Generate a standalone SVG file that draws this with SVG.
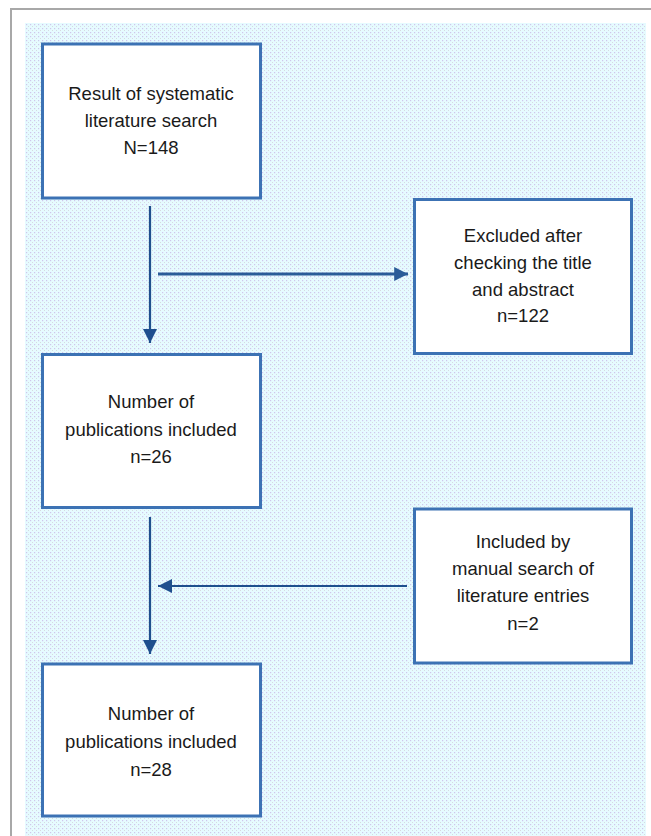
<svg xmlns="http://www.w3.org/2000/svg" width="651" height="836" viewBox="0 0 651 836">
  <defs>
    <pattern id="dots" x="25" y="23" width="4" height="4" patternUnits="userSpaceOnUse">
      <rect width="4" height="4" fill="#e6fbff"/>
      <rect x="1" y="1" width="1.2" height="1.2" fill="#cfc6ec"/>
      <rect x="3" y="3" width="1" height="1" fill="#d6dbe0"/>
    </pattern>
    <marker id="ah" viewBox="0 0 10 10" refX="10" refY="5" markerWidth="6.5" markerHeight="6.5" markerUnits="strokeWidth" orient="auto">
      <path d="M0,0 L10,5 L0,10 Z" fill="#1e4f8e"/>
    </marker>
    <marker id="ah2" viewBox="0 0 10 10" refX="10" refY="5" markerWidth="4.6" markerHeight="4.6" markerUnits="strokeWidth" orient="auto">
      <path d="M0,0 L10,5 L0,10 Z" fill="#2a5c98"/>
    </marker>
  </defs>
  <style>
    .box { fill: #ffffff; stroke: #3c72b4; stroke-width: 3; }
    .lbl { font-family: "Liberation Sans", Arial, sans-serif; font-size: 18.5px; fill: #1a1a1a; text-anchor: middle; }
    .conn { stroke: #1e4f8e; stroke-width: 2.2; fill: none; }
  </style>
  <rect x="0" y="0" width="651" height="836" fill="#ffffff"/>
  <path d="M11,836 V9 H651" fill="none" stroke="#a8a8a8" stroke-width="2"/>
  <rect x="25" y="23" width="621" height="813" fill="url(#dots)"/>

  <g id="connectors">
    <line class="conn" x1="150" y1="206" x2="150" y2="343" marker-end="url(#ah)"/>
    <line class="conn" x1="158" y1="274" x2="408" y2="274" style="stroke:#2a5c98;stroke-width:3" marker-end="url(#ah2)"/>
    <line class="conn" x1="150" y1="517" x2="150" y2="654" marker-end="url(#ah)"/>
    <line class="conn" x1="407" y1="586" x2="158" y2="586" marker-end="url(#ah)"/>
  </g>

  <g id="n1">
    <rect class="box" x="42.5" y="44" width="218" height="154"/>
    <text class="lbl" x="151" y="100">Result of  systematic</text>
    <text class="lbl" x="151" y="127">literature search</text>
    <text class="lbl" x="151" y="154">N=148</text>
  </g>
  <g id="n2">
    <rect class="box" x="414.5" y="199.5" width="217" height="154"/>
    <text class="lbl" x="523" y="242">Excluded after</text>
    <text class="lbl" x="523" y="269">checking the title</text>
    <text class="lbl" x="523" y="296">and abstract</text>
    <text class="lbl" x="523" y="322">n=122</text>
  </g>
  <g id="n3">
    <rect class="box" x="42.5" y="354.5" width="218" height="153"/>
    <text class="lbl" x="151" y="408">Number of</text>
    <text class="lbl" x="151" y="436">publications included</text>
    <text class="lbl" x="151" y="463">n=26</text>
  </g>
  <g id="n4">
    <rect class="box" x="414.5" y="509" width="217" height="154"/>
    <text class="lbl" x="523" y="548">Included by</text>
    <text class="lbl" x="523" y="575">manual search of</text>
    <text class="lbl" x="523" y="602">literature entries</text>
    <text class="lbl" x="523" y="630">n=2</text>
  </g>
  <g id="n5">
    <rect class="box" x="42.5" y="664" width="218" height="152"/>
    <text class="lbl" x="151" y="720">Number of</text>
    <text class="lbl" x="151" y="748">publications included</text>
    <text class="lbl" x="151" y="776">n=28</text>
  </g>
</svg>
